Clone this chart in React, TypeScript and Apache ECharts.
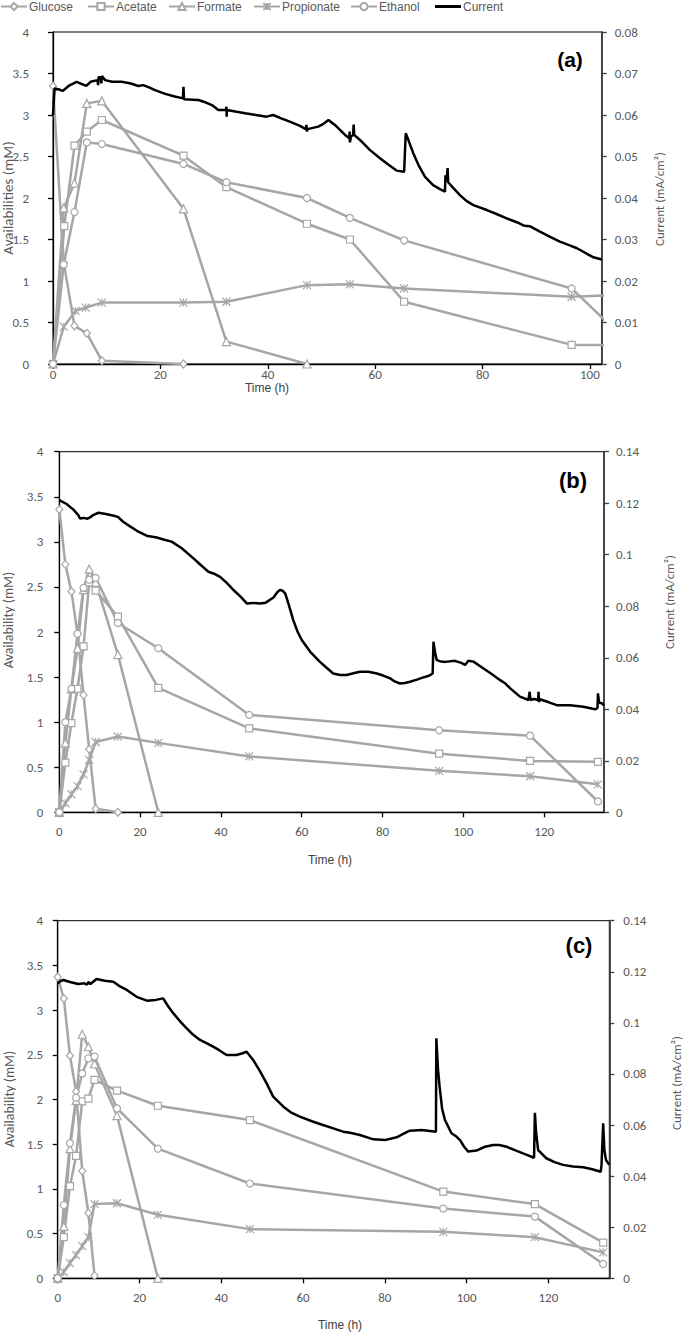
import React, { useEffect, useRef } from "react";
import * as echarts from "echarts";

// ---------- DATA ----------
// Panel (a)
const glucoseA = [[0, 3.35], [2.0, 1.22], [4.0, 0.46], [6.3, 0.37], [9.1, 0.04], [24.3, 0]];
const acetateA = [[0, 0], [2.1, 1.66], [4.0, 2.63], [6.3, 2.80], [9.1, 2.94], [24.3, 2.51], [32.3, 2.13], [47.3, 1.69], [55.3, 1.50], [65.4, 0.75], [96.6, 0.23], [104, 0.23]];
const formateA = [[0, 0], [2.0, 1.88], [4.0, 2.18], [6.3, 3.14], [9.1, 3.17], [24.3, 1.87], [32.3, 0.27], [47.3, 0]];
const propionateA = [[0, 0], [2.0, 0.45], [4.2, 0.64], [6.1, 0.68], [9.1, 0.74], [24.3, 0.74], [32.3, 0.75], [47.3, 0.95], [55.3, 0.96], [65.4, 0.91], [96.6, 0.81], [104, 0.83]];
const ethanolA = [[0, 0], [2.0, 1.20], [4.0, 1.83], [6.3, 2.67], [9.1, 2.65], [24.3, 2.41], [32.3, 2.19], [47.3, 2.00], [55.3, 1.76], [65.4, 1.49], [96.6, 0.91], [104, 0.45]];
const currentA = [[0, 0.0600], [0.3, 0.0664], [1.0, 0.0662], [1.8, 0.0658], [2.9, 0.0670], [4.4, 0.0680], [5.5, 0.0674], [6.2, 0.0670], [7.0, 0.0680], [8.3, 0.0684], [8.4, 0.0672], [8.5, 0.0692], [8.9, 0.0690], [9.0, 0.0676], [9.1, 0.0694], [9.7, 0.0684], [11.0, 0.0680], [12.8, 0.0680], [14.5, 0.0676], [15.9, 0.0670], [16.8, 0.0672], [18.0, 0.0666], [19.0, 0.0660], [20.9, 0.0651], [22.5, 0.0645], [24.2, 0.0640], [24.3, 0.0668], [24.4, 0.0638], [26.0, 0.0637], [27.1, 0.0636], [28.5, 0.0630], [29.6, 0.0624], [30.8, 0.0612], [32.2, 0.0612], [32.3, 0.0620], [32.35, 0.0596], [32.4, 0.0612], [34.2, 0.0608], [35.8, 0.0604], [37.8, 0.0600], [39.8, 0.0596], [41.0, 0.0600], [42.5, 0.0592], [44.1, 0.0584], [46.0, 0.0574], [47.1, 0.0566], [47.2, 0.0576], [47.3, 0.0560], [47.4, 0.0566], [49.4, 0.0572], [50.3, 0.0578], [51.3, 0.0588], [52.5, 0.0576], [54.4, 0.0552], [55.2, 0.0544], [55.25, 0.0560], [55.3, 0.0534], [55.5, 0.0548], [55.9, 0.0552], [56.0, 0.0577], [56.1, 0.0552], [57.5, 0.0536], [59.0, 0.0516], [60.9, 0.0496], [62.5, 0.0480], [64.0, 0.0466], [65.4, 0.0463], [65.7, 0.0556], [66.3, 0.0536], [67.1, 0.0508], [68.2, 0.0476], [69.3, 0.0451], [70.8, 0.0431], [72.0, 0.0422], [73.0, 0.0415], [73.1, 0.0455], [73.3, 0.0440], [73.5, 0.0472], [73.6, 0.0438], [74.5, 0.0425], [75.8, 0.0407], [77.0, 0.0393], [78.3, 0.0383], [80.8, 0.0371], [82.5, 0.0362], [84.5, 0.0351], [86.5, 0.0341], [87.8, 0.0333], [88.8, 0.0332], [90.7, 0.0319], [92.5, 0.0307], [94.4, 0.0295], [96.0, 0.0287], [97.6, 0.0279], [98.7, 0.0271], [99.8, 0.0263], [100.5, 0.0258], [102.2, 0.0252]];

// Panel (b)
const glucoseB = [[0, 3.36], [1.5, 2.75], [3.0, 2.45], [4.5, 1.98], [6.0, 1.30], [7.4, 0.70], [9.0, 0.04], [14.5, 0]];
const acetateB = [[0, 0], [1.5, 0.55], [3.0, 0.99], [4.5, 1.37], [6.0, 1.84], [7.4, 2.55], [9.0, 2.46], [14.5, 2.17], [24.5, 1.38], [47, 0.93], [94, 0.65], [116.5, 0.57], [133.3, 0.56]];
const formateB = [[0, 0], [1.5, 0.77], [3.0, 1.37], [4.5, 1.82], [6.0, 2.47], [7.4, 2.70], [9.0, 2.55], [14.5, 1.75], [24.5, 0]];
const propionateB = [[0, 0], [1.5, 0.10], [3.0, 0.20], [4.5, 0.29], [6.0, 0.42], [7.4, 0.58], [9.0, 0.78], [14.5, 0.84], [24.5, 0.77], [47, 0.62], [94, 0.46], [116.5, 0.40], [133.3, 0.31]];
const ethanolB = [[0, 0], [1.5, 1.0], [3.0, 1.37], [4.5, 1.98], [6.0, 2.49], [7.4, 2.58], [9.0, 2.60], [14.5, 2.10], [24.5, 1.82], [47, 1.08], [94, 0.91], [116.5, 0.85], [133.3, 0.12]];
const currentB = [[0, 0.1212], [1.8, 0.1197], [3.5, 0.1175], [4.7, 0.1154], [5.1, 0.1141], [6.0, 0.1143], [7.0, 0.1140], [7.6, 0.1145], [8.5, 0.1155], [9.7, 0.1163], [11.5, 0.1158], [13.8, 0.1150], [14.5, 0.1147], [15.8, 0.1128], [17.5, 0.1110], [19.2, 0.1093], [21.6, 0.1074], [24.1, 0.1067], [26.0, 0.1058], [27.8, 0.1051], [30.3, 0.1025], [33.2, 0.0986], [35.0, 0.0960], [36.9, 0.0934], [38.5, 0.0925], [39.8, 0.0914], [41.5, 0.0890], [43.1, 0.0863], [44.8, 0.0838], [46.4, 0.0811], [48.0, 0.0813], [49.7, 0.0811], [51.1, 0.0814], [53.0, 0.0834], [54.0, 0.0855], [54.6, 0.0863], [55.3, 0.0860], [55.9, 0.0850], [56.8, 0.0805], [57.9, 0.0746], [59.0, 0.0700], [60.0, 0.0669], [62.1, 0.0623], [64.5, 0.0584], [66.0, 0.0563], [67.8, 0.0539], [69.5, 0.0533], [71.1, 0.0533], [72.8, 0.0540], [74.4, 0.0546], [76.5, 0.0546], [78.6, 0.0539], [80.3, 0.0530], [81.9, 0.0520], [83.0, 0.0508], [84.3, 0.0500], [85.5, 0.0502], [86.8, 0.0507], [88.5, 0.0515], [90.1, 0.0524], [91.5, 0.0530], [92.4, 0.0539], [92.6, 0.0662], [93.0, 0.0620], [93.4, 0.0591], [94.5, 0.0585], [95.5, 0.0584], [97.9, 0.0588], [99.5, 0.0580], [100.4, 0.0572], [100.8, 0.0580], [101.2, 0.0588], [102.5, 0.0585], [104.9, 0.0559], [107.0, 0.0537], [109.1, 0.0513], [110.4, 0.0500], [111.6, 0.0481], [114.0, 0.0449], [116.1, 0.0436], [116.4, 0.0468], [116.6, 0.0436], [117.5, 0.0440], [118.5, 0.0436], [118.6, 0.0468], [118.7, 0.0428], [118.9, 0.0439], [121.0, 0.0428], [123.1, 0.0416], [126.4, 0.0416], [129.7, 0.0410], [132.6, 0.0400], [133.2, 0.0405], [133.3, 0.0462], [133.6, 0.0425], [134.3, 0.0423], [134.8, 0.0415]];

// Panel (c)
const glucoseC = [[0, 3.37], [1.5, 3.13], [3.0, 2.49], [4.5, 2.09], [6.0, 1.20], [7.5, 0.73], [9.0, 0.03]];
const acetateC = [[0, 0], [1.5, 0.46], [3.0, 1.03], [4.5, 1.37], [6.0, 1.98], [7.5, 2.01], [9.0, 2.22], [14.5, 2.10], [24.5, 1.93], [47, 1.77], [94.3, 0.97], [116.7, 0.83], [133.4, 0.40]];
const formateC = [[0, 0], [1.5, 0.58], [3.0, 1.45], [4.5, 1.99], [6.0, 2.73], [7.5, 2.59], [9.0, 2.40], [14.5, 1.82], [24.5, 0]];
const propionateC = [[0, 0], [1.5, 0.07], [3.0, 0.17], [4.5, 0.26], [6.0, 0.36], [7.5, 0.46], [9.0, 0.83], [14.5, 0.84], [24.5, 0.71], [47, 0.55], [94.3, 0.52], [116.7, 0.46], [133.4, 0.29]];
const ethanolC = [[0, 0], [1.5, 0.82], [3.0, 1.51], [4.5, 2.02], [6.0, 2.29], [7.5, 2.46], [9.0, 2.48], [14.5, 1.90], [24.5, 1.45], [47, 1.06], [94.3, 0.78], [116.7, 0.69], [133.4, 0.16]];
const currentC = [[0, 0.1155], [0.8, 0.1165], [1.4, 0.1168], [3.0, 0.1160], [5.0, 0.1152], [6.5, 0.1155], [7.2, 0.1150], [7.5, 0.1160], [8.0, 0.1152], [9.5, 0.1172], [11.5, 0.1165], [13.6, 0.1161], [15.0, 0.1145], [16.9, 0.1129], [19.3, 0.1102], [21.8, 0.1087], [24.0, 0.1090], [25.8, 0.1096], [27.0, 0.1065], [28.3, 0.1037], [30.0, 0.1005], [31.5, 0.0979], [33.0, 0.0955], [34.8, 0.0933], [36.5, 0.0920], [38.0, 0.0907], [39.5, 0.0893], [41.3, 0.0874], [43.7, 0.0874], [45.0, 0.0880], [46.2, 0.0887], [47.8, 0.0855], [49.5, 0.0810], [51.1, 0.0763], [52.7, 0.0711], [55.2, 0.0672], [57.0, 0.0650], [59.2, 0.0633], [62.5, 0.0613], [64.5, 0.0602], [67.4, 0.0587], [69.8, 0.0574], [71.5, 0.0570], [73.9, 0.0561], [77.2, 0.0544], [80.0, 0.0541], [82.9, 0.0552], [84.5, 0.0565], [86.1, 0.0578], [89.0, 0.0581], [92.5, 0.0574], [92.6, 0.0940], [93.0, 0.0820], [93.4, 0.0750], [94.0, 0.0665], [94.7, 0.0620], [96.3, 0.0568], [97.5, 0.0555], [98.4, 0.0541], [99.4, 0.0515], [100.4, 0.0496], [102.4, 0.0500], [104.5, 0.0515], [106.5, 0.0522], [108.0, 0.0522], [109.8, 0.0515], [111.8, 0.0502], [113.8, 0.0489], [116.5, 0.0472], [116.7, 0.0648], [117.0, 0.0570], [117.5, 0.0502], [119.5, 0.0470], [121.5, 0.0455], [123.6, 0.0444], [126.0, 0.0438], [128.5, 0.0435], [130.5, 0.0428], [132.8, 0.0417], [133.0, 0.0444], [133.4, 0.0607], [133.7, 0.0500], [134.1, 0.0463], [134.9, 0.0444]];

const seriesNames = ["Glucose", "Acetate", "Formate", "Propionate", "Ethanol", "Current"];
const xTicksA = [0, 20, 40, 60, 80, 100];
const xTicksBC = [0, 20, 40, 60, 80, 100, 120];
const panelLabels = ["(a)", "(b)", "(c)"];
const leftTitles = ["Availabilities (mM)", "Availability (mM)", "Availability (mM)"];
const rightTitle = "Current (mA/cm²)";
const xTitle = "Time (h)";

// ---------- STYLE ----------
const GRAY = "#A6A6A6";
const TICK_COLOR = "#595959";
const TICK_FONT = "Carlito, Lato, 'Open Sans', sans-serif";
const ARIAL = "'Liberation Sans', Arial, sans-serif";
const ASTERISK = "path://M0,0L10,10M10,0L0,10M5,0L5,10";
const symbols = ["diamond", "rect", "triangle", ASTERISK, "circle"];
const symbolSizes: any[] = [[7, 8], 7, 8, 8, 7];

const panels = [
  { grid: { left: 53, top: 32, width: 548.7, height: 332 }, xMax: 102.2, xTicks: xTicksA, rMax: 0.08, rInt: 0.01, xm: 4, ylm: 24, yrm: 13,
    data: [glucoseA, acetateA, formateA, propionateA, ethanolA], current: currentA,
    label: [570, 59, 21], lt: [8, 198, 15], rt: [659, 199], xt: [267, 388] },
  { grid: { left: 59.3, top: 451.7, width: 544.7, height: 360.6 }, xMax: 134.8, xTicks: xTicksBC, rMax: 0.14, rInt: 0.02, xm: 13, ylm: 16, yrm: 12,
    data: [glucoseB, acetateB, formateB, propionateB, ethanolB], current: currentB,
    label: [573, 480, 22], lt: [8, 620, 14], rt: [669, 602], xt: [330, 860] },
  { grid: { left: 57.7, top: 920.7, width: 551.6, height: 357.6 }, xMax: 134.9, xTicks: xTicksBC, rMax: 0.14, rInt: 0.02, xm: 13, ylm: 14.5, yrm: 14,
    data: [glucoseC, acetateC, formateC, propionateC, ethanolC], current: currentC,
    label: [579, 945, 22], lt: [9, 1099, 14], rt: [676, 1083], xt: [340, 1325] },
];

const legendLefts = [0, 87, 168, 253, 350, 435];

function buildOption() {
  const grid: any[] = [];
  const xAxis: any[] = [];
  const yAxis: any[] = [];
  const series: any[] = [];
  const graphic: any[] = [];

  panels.forEach((p, i) => {
    grid.push({ ...p.grid, show: true, borderColor: "#000", borderWidth: 1, backgroundColor: "transparent" });
    xAxis.push({
      type: "value", gridIndex: i, min: 0, max: p.xMax,
      axisLine: { show: true, onZero: false, lineStyle: { color: "#000", width: 1.3 } },
      axisTick: { show: true, inside: false, length: 5, customValues: p.xTicks, lineStyle: { color: "#000", width: 1.3 } },
      axisLabel: { customValues: p.xTicks, margin: p.xm, color: TICK_COLOR, fontFamily: TICK_FONT, fontSize: 13 },
      splitLine: { show: false },
    });
    yAxis.push({
      type: "value", gridIndex: i, position: "left", min: 0, max: 4, interval: 0.5,
      axisLine: { show: true, lineStyle: { color: "#000", width: 1.3 } },
      axisTick: { show: true, inside: false, length: 5, lineStyle: { color: "#000", width: 1.3 } },
      axisLabel: { margin: p.ylm, color: TICK_COLOR, fontFamily: TICK_FONT, fontSize: 13 },
      splitLine: { show: false },
    });
    yAxis.push({
      type: "value", gridIndex: i, position: "right", min: 0, max: p.rMax, interval: p.rInt,
      axisLine: { show: true, lineStyle: { color: "#404040", width: 1.8 } },
      axisTick: { show: true, inside: false, length: 5, lineStyle: { color: "#404040", width: 1.3 } },
      axisLabel: { margin: p.yrm, color: TICK_COLOR, fontFamily: TICK_FONT, fontSize: 13, align: "left" },
      splitLine: { show: false },
    });

    p.data.forEach((d, k) => {
      series.push({
        type: "line", name: seriesNames[k], data: d,
        xAxisIndex: i, yAxisIndex: i * 2,
        symbol: symbols[k], symbolSize: symbolSizes[k], showAllSymbol: true,
        lineStyle: { color: GRAY, width: 2.5 },
        itemStyle: { color: "#fff", borderColor: GRAY, borderWidth: 1.2 },
        emphasis: { disabled: true },
        clip: true, z: 2,
      });
    });
    series.push({
      type: "line", name: "Current", data: p.current,
      xAxisIndex: i, yAxisIndex: i * 2 + 1,
      symbol: "none", showSymbol: false,
      lineStyle: { color: "#000", width: 2.5 },
      itemStyle: { color: "#000" },
      emphasis: { disabled: true },
      clip: true, z: 3,
    });

    graphic.push({
      type: "text", x: p.label[0], y: p.label[1],
      style: { text: panelLabels[i], fill: "#000", fontSize: p.label[2], fontWeight: "bold", fontFamily: ARIAL, align: "center", verticalAlign: "middle", textAlign: "center", textVerticalAlign: "middle" },
    });
    graphic.push({
      type: "text", x: p.lt[0], y: p.lt[1], rotation: Math.PI / 2,
      style: { text: leftTitles[i], fill: TICK_COLOR, fontSize: p.lt[2], fontFamily: TICK_FONT, align: "center", verticalAlign: "middle", textAlign: "center", textVerticalAlign: "middle" },
    });
    graphic.push({
      type: "text", x: p.rt[0], y: p.rt[1], rotation: Math.PI / 2,
      style: { text: rightTitle, fill: TICK_COLOR, fontSize: 13, fontFamily: TICK_FONT, align: "center", verticalAlign: "middle", textAlign: "center", textVerticalAlign: "middle" },
    });
    graphic.push({
      type: "text", x: p.xt[0], y: p.xt[1],
      style: { text: xTitle, fill: "#404040", fontSize: 12, fontFamily: ARIAL, align: "center", verticalAlign: "middle", textAlign: "center", textVerticalAlign: "middle" },
    });
  });

  const legend = seriesNames.map((n, k) => {
    const isCurrent = n === "Current";
    return {
      left: legendLefts[k], top: 0, padding: 0, itemWidth: 26, itemHeight: isCurrent ? 3 : 9, itemGap: 0,
      selectedMode: false,
      data: [isCurrent ? { name: n, icon: "rect", itemStyle: { color: "#000" } } : n],
      textStyle: { color: TICK_COLOR, fontSize: 12, lineHeight: 12, fontFamily: "'Liberation Sans Narrow', " + ARIAL, padding: [1, 0, 0, -3] },
    };
  });

  return { animation: false, backgroundColor: "#fff", grid, xAxis, yAxis, series, legend, graphic };
}

export default function App() {
  const ref = useRef<HTMLDivElement>(null);
  useEffect(() => {
    document.body.style.margin = "0";
    if (!ref.current) return;
    const chart = echarts.init(ref.current, null, { renderer: "svg" });
    chart.setOption(buildOption() as any);
    return () => chart.dispose();
  }, []);
  return <div ref={ref} style={{ width: 685, height: 1332 }} />;
}
